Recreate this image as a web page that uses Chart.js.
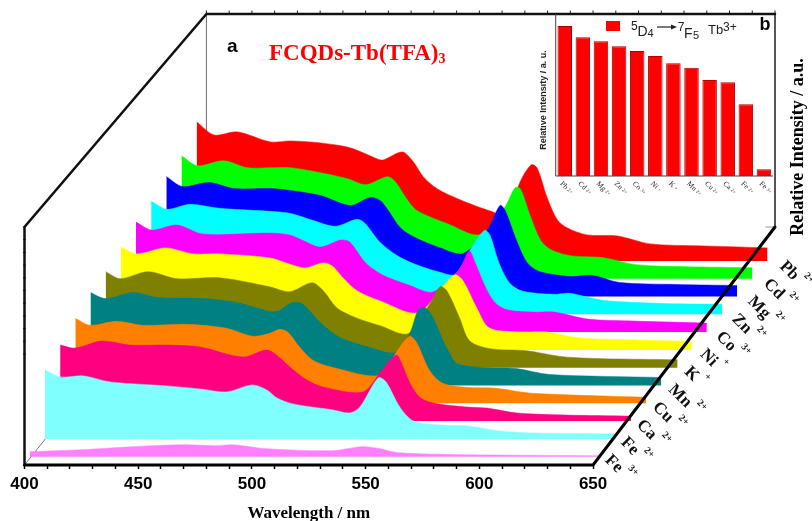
<!DOCTYPE html>
<html><head><meta charset="utf-8">
<script src="https://cdn.jsdelivr.net/npm/chart.js@4"></script>
<style>html,body{margin:0;padding:0;background:#fff;width:812px;height:521px;overflow:hidden}
canvas{position:absolute}</style></head><body>
<canvas id="main" width="812" height="521" style="left:0;top:0"></canvas>
<canvas id="inset" width="240" height="195" style="left:540px;top:5px"></canvas>
<script>
// ---------- data ----------
const ions = ['Fe','Fe','Ca','Cu','Mn','K','Ni','Co','Zn','Mg','Cd','Pb'];
const charges = ['3+','2+','2+','2+','2+','+','+','3+','2+','2+','2+','2+'];
const colors = ['#ff80ff','#80ffff','#ff0080','#ff8000','#008080','#808000','#ffff00','#ff00ff','#00ffff','#0000ff','#00ff00','#ff0000'];

const wlFe3 = [400,423,445,467,482,489,504,533,546,554,562,592,650];
const inFe3 = [5,7,10,12,11,12,8,6,10,8,4,2,1];
const wlFe2 = [400,406.6,417,428.6,453.6,468,480,491,497.5,502,509,526.6,534,538.5,546.5,550,556,562,574,585.6,600,615,651];
const inFe2 = [69,62,63,57,53,50,47,54,49,41,35,29,26,32,61,57,32,18,14,13,8,6,5];
const wlCa = [400,406.6,417.6,423,430.7,447,461.5,480.4,491,496.7,501,508.5,515.5,533,540.6,545,548,549.5,553.8,558,564,579,587.6,601,622.7,651];
const inCa = [76,73,80,79,76,76,74,64,71,63,54,41,34,29,48,61,66,61,38,24,18,14,13,8,6,5];
const wlCu = [400,406.5,418,429.7,449,466.5,478,485.5,490,493.5,498.7,504.5,513,534,541.7,547,550,555.7,561.5,572,585,601,651];
const inCu = [85,78,82,78,79,75,67,70,74,71,56,43,36,28,53,67,61,33,20,16,15,10,6];
const wlMn = [400,406.5,419,429.3,449.6,464.4,479,483,487.7,492,495,501,509.7,523,534,540.4,544,547,550.6,555,558,561,572.5,587,602,651];
const inMn = [93,87,93,88,87,83,74,75,82,83,78,63,48,38,33,52,75,78,68,45,32,22,18,17,11,8];
const wlK = [400,406.5,418.7,431.4,450,472,481,490.7,495.7,501.6,510,520.7,533,542.6,547,550,555.6,560,569,585,601,618.6,651.5];
const inK = [96,89,96,89,90,81,76,85,77,60,50,42,34,64,81,77,50,27,19,17,11,9,8];
const wlNi = [400,407,419.5,432,443.6,465.6,474,481,489,493,497.7,504,514,530.6,542.5,547,550.5,556.5,562,575,587,601.6,626.6,651];
const inNi = [103,96,102,96,96,92,86,82,87,84,72,59,49,37,66,75,69,42,22,18,18,12,10,8.5];
const wlCo = [400,407,418,429.5,459,467.7,473,481,490,494,501,508.5,520,530.5,542,546.5,549,553.6,558,563.6,575.4,584,598.7,619,651];
const inCo = [110,102,107,98,99,97,92,85,92,90,69,57,47,40,62,81,70,45,29,22,20,20,13,11,9];
const wlZn = [400,407,417,430,452,461,471,481,490.5,494,500.6,508,515,527,533.6,541.5,546.7,549,553,557.7,563.5,577,584,598.6,622,651];
const inZn = [113,105,110,106,103,101,94,88,95,91,72,59,51,42,40,69,84,79,51,31,23,20,21,14,11,10];
const wlMg = [400,407,419,429.6,445.7,454.5,467.7,481,489.6,494,497,502.8,508.5,520,530.5,541.5,546.7,549,554,558.6,564,577.5,587.6,599.4,624.5,651];
const inMg = [120,110,114,108,108,106,101,91,99,96,88,69,60,49,43,68,91,86,56,34,25,20,21,14,12,11];
const wlCd = [400,407,418.5,429,439,448,461,473,481,490.5,494,497.5,502,506,517,531,542,546.7,549,553.3,558,562.5,571,585.6,600,622,651];
const inCd = [123,113,118,111,111,111,106,100,94,102,97,85,71,65,55,44,71,91,90,63,38,29,23,21,14,12,11];
const wlPb = [400,407.7,418,432.5,441,454.5,467.7,479.5,482,490.5,495.3,499.7,505.9,516,529,537,542,547,549.7,554,558.6,563,571.8,585,599.5,622.8,637.7,651];
const inPb = [139,126,129,119,120,118,113,102,101,109,99,84,72,61,50,46,78,96,93,64,41,33,26,25,17,15,14,13];

const waves = [wlFe3,wlFe2,wlCa,wlCu,wlMn,wlK,wlNi,wlCo,wlZn,wlMg,wlCd,wlPb];
const heights = [inFe3,inFe2,inCa,inCu,inMn,inK,inNi,inCo,inZn,inMg,inCd,inPb];

const insetIons = ['Pb','Cd','Mg','Zn','Co','Ni','K','Mn','Cu','Ca','Fe','Fe'];
const insetCharges = ['2+','2+','2+','2+','3+','+','+','2+','2+','2+','2+','3+'];
const insetValues = [150,138.7,134.7,129.7,125,120,112.7,108.3,96,93.7,71.7,6.7];

const xTickStep = 10, xMin = 400, xMax = 650, xBackShift = 80, yDepth = 238, yTop = 451;
const depthShift = i => 2.33 + 6.67*i;
const depthBase = i => 8.3 + 17.8*i;

// ---------- main chart ----------
const SANS='"Liberation Sans"', SERIF='"Liberation Serif"';
const seriesSets = waves.map((w,i)=>({
  label: ions[i]+' '+charges[i],
  data: w.map((v,k)=>({x:v+depthShift(i), y:depthBase(i)+heights[i][k]})),
  borderColor: colors[i], backgroundColor: colors[i], borderWidth: 0.5,
  pointRadius: 0, tension:0.3,
  fill:{value:depthBase(i)}
}));
const frameLine = (pts,color,width)=>({data:pts.map(p=>({x:p[0],y:p[1]})),borderColor:color,borderWidth:width,pointRadius:0,fill:false,tension:0,borderCapStyle:'round'});
const frontFrame = [
  frameLine([[xMin,0],[xMax,0],[xMax+xBackShift,yDepth]],'#000',3),
  frameLine([[xMin,0],[xMin,yDepth],[xMin+xBackShift,yTop],[xMax+xBackShift,yTop]],'#111',2.5),
  frameLine([[xMax+xBackShift,yTop],[xMax+xBackShift,yDepth]],'#555',2)
];
const topTicks=[],leftTicks=[];
for(let v=xMin+xBackShift;v<=xMax+xBackShift;v+=xTickStep) topTicks.push({x:v,y:yTop+1.5});
for(let v=yDepth;v>105;v-=12.7) leftTicks.push({x:xMin,y:v});
const tickSets=[
 {data:topTicks,showLine:false,pointStyle:'line',rotation:90,pointRadius:2,borderColor:'#222',pointBorderWidth:1,borderWidth:1},
 {data:leftTicks,showLine:false,pointStyle:'line',rotation:0,pointRadius:1.5,borderColor:'#222',pointBorderWidth:1,borderWidth:1}
];
const backFrame = [
  frameLine([[xMin+xBackShift,yTop],[xMin+xBackShift,yDepth]],'#808080',1),
  frameLine([[xMax+xBackShift,yDepth],[xMax+xBackShift-4,yDepth]],'#999',1),
  frameLine([[xMin,0],[xMin+9.5,27]],'#777',1)
];
function rotatedLabel(ctx,text,sup,x,y,font,supFont,alongSup,upSup,color){
  ctx.save();ctx.translate(x,y);ctx.rotate(Math.PI/4);ctx.fillStyle=color;ctx.textBaseline='alphabetic';ctx.textAlign='left';
  ctx.font=font;ctx.fillText(text,0,0);
  const w=ctx.measureText(text).width;
  ctx.font=supFont;ctx.fillText(sup,w+alongSup,-upSup);
  ctx.restore();
}
const annotate={id:'annotate',afterDraw(c){
  const ctx=c.ctx,xs=c.scales.x,ys=c.scales.y;
  ctx.save();ctx.fillStyle='#000';ctx.textBaseline='alphabetic';
  ctx.textAlign='center';ctx.font='bold 17px '+SERIF;
  ctx.fillText('Wavelength / nm',xs.getPixelForValue(525),518);
  ctx.font='bold 19px '+SANS;ctx.textAlign='left';
  ctx.fillText('a',227,52);
  ctx.fillStyle='#ff0000';ctx.font='bold 23px '+SERIF;
  const t='FCQDs-Tb(TFA)';ctx.fillText(t,269,60);
  const w=ctx.measureText(t).width;ctx.font='bold 14px '+SERIF;ctx.fillText('3',269+w,63);
  ctx.fillStyle='#000';ctx.font='bold 18px '+SERIF;ctx.textAlign='center';
  ctx.save();ctx.translate(803,147);ctx.rotate(-Math.PI/2);ctx.fillText('Relative Intensity / a.u.',0,0);ctx.restore();
  ions.forEach((n,i)=>{
    const x=xs.getPixelForValue(xMax+depthShift(i))+6+0.7*i;
    const y=ys.getPixelForValue(depthBase(i))+4+0.18*i;
    rotatedLabel(ctx,n,charges[i],x,y,'bold 17px '+SERIF,'bold 10px '+SERIF,4,11,'#111');
  });
  ctx.restore();
}};
new Chart(document.getElementById('main'),{
  type:'line',
  data:{datasets:[...frontFrame,...tickSets,...seriesSets,...backFrame]},
  options:{responsive:false,animation:false,events:[],devicePixelRatio:1,clip:false,
    layout:{padding:{left:24.5,right:37,top:14,bottom:0}},
    plugins:{legend:{display:false},tooltip:{enabled:false},title:{display:false}},
    scales:{
      x:{type:'linear',min:xMin,max:xMax+xBackShift,border:{display:false},
        afterFit(s){s.height=56;},
        grid:{drawOnChartArea:false,tickLength:4,tickWidth:1.5,tickColor:ctx=>(ctx.tick&&ctx.tick.value<=xMax)?'#000':'rgba(0,0,0,0)'},
        ticks:{stepSize:xTickStep,autoSkip:false,maxRotation:0,minRotation:0,padding:5,color:'#000',font:{family:SANS,weight:'bold',size:17},
          callback:v=>(v%50===0&&v<=xMax)?String(v):''}},
      y:{type:'linear',min:0,max:yTop,display:false}
    }
  },
  plugins:[annotate]
});

// ---------- inset ----------
const insetDeco={id:'insetDeco',afterDraw(c){
  const ctx=c.ctx,a=c.chartArea,xs=c.scales.x;
  ctx.save();
  ctx.strokeStyle='#444';ctx.lineWidth=1;
  ctx.beginPath();ctx.moveTo(a.left,a.top);ctx.lineTo(a.left,a.bottom);ctx.lineTo(a.right,a.bottom);ctx.stroke();
  insetIons.forEach((n,i)=>{
    const x=xs.getPixelForValue(i);
    rotatedLabel(ctx,n,insetCharges[i],x-5,a.bottom+8,'7.5px '+SERIF,'5px '+SERIF,1.5,1,'#222');
  });
  // legend and annotation
  const L=-540,T=-5;
  ctx.fillStyle='#ff0000';ctx.fillRect(606+L,21+T,14,10);
  ctx.fillStyle='#222';ctx.textAlign='left';ctx.textBaseline='alphabetic';
  ctx.font='12px '+SANS;ctx.fillText('5',631+L,30+T);
  ctx.font='14px '+SANS;ctx.fillText('D',637.5+L,36+T);
  ctx.font='11px '+SANS;ctx.fillText('4',647.5+L,37+T);
  ctx.strokeStyle='#222';ctx.lineWidth=1.2;
  ctx.beginPath();ctx.moveTo(657+L,27+T);ctx.lineTo(674+L,27+T);ctx.stroke();
  ctx.beginPath();ctx.moveTo(677+L,27+T);ctx.lineTo(671+L,24.5+T);ctx.lineTo(671+L,29.5+T);ctx.closePath();ctx.fill();
  ctx.font='12px '+SANS;ctx.fillText('7',677.7+L,31+T);
  ctx.font='14px '+SANS;ctx.fillText('F',684+L,38+T);
  ctx.font='11px '+SANS;ctx.fillText('5',693+L,38.5+T);
  ctx.font='13px '+SANS;ctx.fillText('Tb',708+L,34+T);
  ctx.font='12px '+SANS;ctx.fillText('3+',723+L,30.5+T);
  ctx.fillStyle='#000';ctx.font='bold 18px '+SANS;ctx.fillText('b',759.5+L,30+T);
  ctx.font='bold 9px '+SANS;ctx.fillStyle='#222';ctx.textAlign='center';
  ctx.save();ctx.translate(545.5+L,100+T);ctx.rotate(-Math.PI/2);ctx.fillText('Relative Intensity / a. u.',0,0);ctx.restore();
  ctx.restore();
}};
new Chart(document.getElementById('inset'),{
  type:'bar',
  data:{labels:insetIons.map((n,i)=>n+insetCharges[i]),datasets:[{data:insetValues,backgroundColor:'#ff0000',borderColor:'#b00000',borderWidth:1,barPercentage:0.8,categoryPercentage:1}]},
  options:{responsive:false,animation:false,events:[],devicePixelRatio:1,
    layout:{padding:{left:15.7,right:7,top:9,bottom:24}},
    plugins:{legend:{display:false},tooltip:{enabled:false}},
    scales:{x:{display:false,type:'category'},y:{display:false,min:0,max:162}}
  },
  plugins:[insetDeco]
});
</script></body></html>
